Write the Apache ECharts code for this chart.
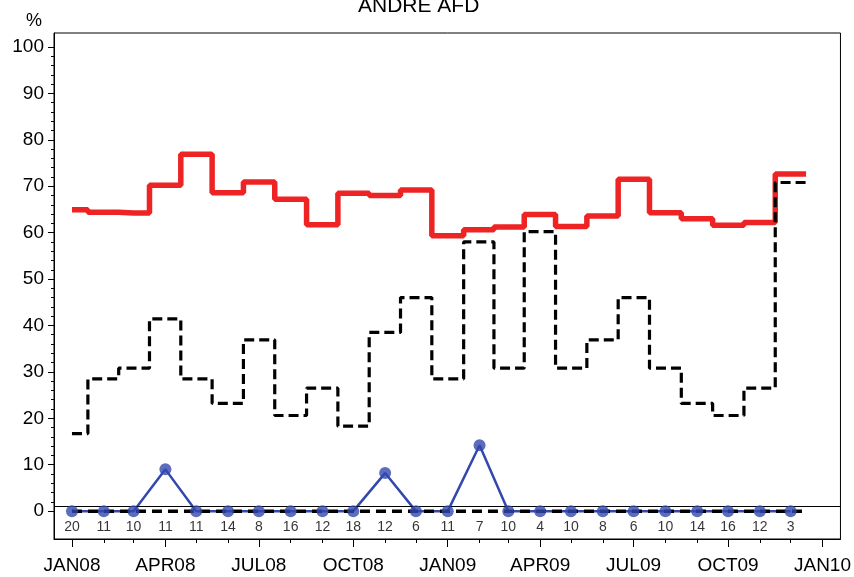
<!DOCTYPE html>
<html>
<head>
<meta charset="utf-8">
<script src="https://cdn.jsdelivr.net/npm/echarts@6/dist/echarts.min.js"></script>
<style>
html,body{margin:0;padding:0;background:#fff;}
#chart{width:854px;height:577px;}
</style>
</head>
<body>
<div id="chart"></div>
<script>
// ---- data ----
const months = ['2008-01-01','2008-02-01','2008-03-01','2008-04-01','2008-05-01','2008-06-01',
  '2008-07-01','2008-08-01','2008-09-01','2008-10-01','2008-11-01','2008-12-01',
  '2009-01-01','2009-02-01','2009-03-01','2009-04-01','2009-05-01','2009-06-01',
  '2009-07-01','2009-08-01','2009-09-01','2009-10-01','2009-11-01','2009-12-01'];
const periodEnd = '2009-12-16';
const redValues = [64.9,64.4,64.2,70.2,76.9,68.6,70.9,67.2,61.7,68.5,68.0,69.2,
  59.3,60.6,61.2,63.9,61.3,63.6,71.5,64.3,63.0,61.6,62.2,72.6];
const blackValues = [16.7,28.5,30.8,41.4,28.5,23.2,36.9,20.6,26.5,18.3,38.5,46.0,
  28.5,58.0,30.8,60.2,30.8,36.9,46.0,30.8,23.2,20.6,26.5,70.8];
const zeroValues = [0,0,0,0,0,0,0,0,0,0,0,0,0,0,0,0,0,0,0,0,0,0,0,0];
const blueValues = [0,0,0,9.0,0,0,0,0,0,0,8.2,0,0,14.2,0,0,0,0,0,0,0,0,0,0];
const counts = [20,11,10,11,11,14,8,16,12,18,12,6,11,7,10,4,10,8,6,10,14,16,12,3];
const refLine = 1;
const quarterTicks = ['2008-01-01','2008-04-01','2008-07-01','2008-10-01','2009-01-01',
  '2009-04-01','2009-07-01','2009-10-01','2010-01-01'];
const quarterLabels = ['JAN08','APR08','JUL08','OCT08','JAN09','APR09','JUL09','OCT09','JAN10'];
const monthTicks = months.concat(['2010-01-01']);
const yTicks = [0,10,20,30,40,50,60,70,80,90,100];
const yMinorTicks = [0,2,4,6,8,10,12,14,16,18,20,22,24,26,28,30,32,34,36,38,40,42,44,46,48,50,
  52,54,56,58,60,62,64,66,68,70,72,74,76,78,80,82,84,86,88,90,92,94,96,98,100];
const countRowY = -3.4;

// ---- helpers ----
const ts = d => new Date(d + 'T00:00:00Z').getTime();
const stepData = vals => months.map((m, i) => [ts(m), vals[i]]).concat([[ts(periodEnd), vals[vals.length - 1]]]);
const qTs = quarterTicks.map(ts);
const xMin = ts('2007-12-14') + 12 * 3600e3;
const xMax = ts('2010-01-18') + 12 * 3600e3;
const FONT = "'Liberation Sans', Arial, Helvetica, sans-serif";

const chart = echarts.init(document.getElementById('chart'), null, {renderer: 'canvas'});
const option = {
  animation: false,
  backgroundColor: '#fff',
  title: [
    {text: 'ANDRE AFD', left: 358, top: -4, padding: 0,
     textStyle: {fontFamily: FONT, fontSize: 21, fontWeight: 'normal', color: '#000'}},
    {text: '%', left: 26, top: 12, padding: 0,
     textStyle: {fontFamily: FONT, fontSize: 18, fontWeight: 'normal', color: '#000'}}
  ],
  grid: {left: 54, top: 33, right: 13, bottom: 38, show: true, borderColor: '#000', borderWidth: 1, backgroundColor: 'transparent'},
  xAxis: [
    {type: 'value', min: xMin, max: xMax, position: 'bottom',
     axisLine: {show: true, onZero: false, lineStyle: {color: '#000', width: 1}},
     axisTick: {show: true, customValues: qTs, length: 8, lineStyle: {color: '#000', width: 1}},
     axisLabel: {show: true, customValues: qTs, margin: 17, color: '#000', fontFamily: FONT, fontSize: 19,
       formatter: v => { const i = qTs.indexOf(v); return i >= 0 ? quarterLabels[i] : ''; }},
     splitLine: {show: false}},
    {type: 'value', min: xMin, max: xMax, position: 'bottom',
     axisLine: {show: false, onZero: false},
     axisTick: {show: true, customValues: monthTicks.map(ts), length: 4, lineStyle: {color: '#000', width: 1}},
     axisLabel: {show: false}, splitLine: {show: false}}
  ],
  yAxis: [
    {type: 'value', min: -6, max: 103,
     axisLine: {show: true, onZero: false, lineStyle: {color: '#000', width: 1}},
     axisTick: {show: true, customValues: yTicks, length: 6, lineStyle: {color: '#000', width: 1}},
     axisLabel: {show: true, customValues: yTicks, margin: 10, color: '#000', fontFamily: FONT, fontSize: 19},
     splitLine: {show: false}},
    {type: 'value', min: -6, max: 103, position: 'left',
     axisLine: {show: false, onZero: false},
     axisTick: {show: true, customValues: yMinorTicks, length: 3, lineStyle: {color: '#000', width: 1}},
     axisLabel: {show: false}, splitLine: {show: false}}
  ],
  series: [
    {type: 'line', name: 'red', step: 'middle', data: stepData(redValues), showSymbol: false,
     lineStyle: {color: '#ee2424', width: 5.5}, z: 2,
     markLine: {silent: true, symbol: 'none', label: {show: false},
       lineStyle: {color: '#000', width: 1, type: 'solid'}, data: [{yAxis: refLine}]}},
    {type: 'line', name: 'black', step: 'middle', data: stepData(blackValues), showSymbol: false,
     lineStyle: {color: '#000', width: 3.2, type: [10, 5]}, z: 3},
    {type: 'line', name: 'blueLine', data: months.map((m, i) => [ts(m), blueValues[i]]), showSymbol: false,
     lineStyle: {color: '#3348ac', width: 2.5}, z: 4},
    {type: 'line', name: 'zero', step: 'middle', data: stepData(zeroValues), showSymbol: false,
     lineStyle: {color: '#000', width: 3.5, type: [10, 6]}, z: 5},
    {type: 'scatter', name: 'blueDots', data: months.map((m, i) => [ts(m), blueValues[i]]),
     symbol: 'circle', symbolSize: 12, itemStyle: {color: '#3348ac'}, z: 6},
    {type: 'scatter', name: 'counts', data: months.map((m, i) => [ts(m), countRowY]),
     symbolSize: 0, z: 7,
     label: {show: true, position: 'inside', color: '#000', fontFamily: FONT, fontSize: 14,
       formatter: p => String(counts[p.dataIndex])}}
  ]
};
chart.setOption(option);
</script>
</body>
</html>
